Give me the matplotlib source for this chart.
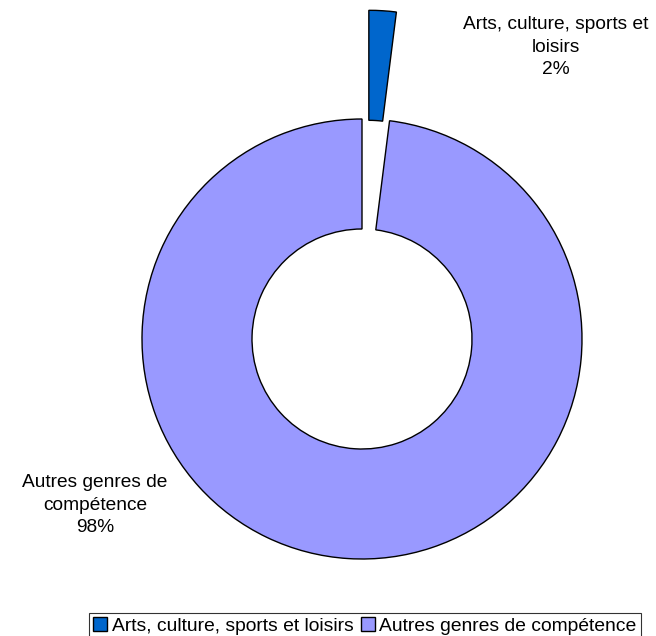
import matplotlib
matplotlib.use("Agg")
import matplotlib.pyplot as plt

categories = ["Arts, culture, sports et loisirs", "Autres genres de compétence"]
values = [2, 98]
label_texts = ["Arts, culture, sports et\nloisirs\n2%", "Autres genres de\ncompétence\n98%"]
colors = ["#0066CC", "#9999FF"]

plt.rcParams['font.family'] = ['Liberation Sans', 'DejaVu Sans']

W, H = 656, 636
fig = plt.figure(figsize=(W / 100, H / 100), dpi=100)
ax = fig.add_axes([0, 0, 1, 1])

R = 220.0
cx, cy = 362.0, 339.0

def px(x, y):
    return ((x - cx) / R, (cy - y) / R)

wedges, _ = ax.pie(values, colors=colors, startangle=90, counterclock=False,
                   explode=[0.495, 0], radius=1.0,
                   wedgeprops=dict(width=0.5, edgecolor="black", linewidth=1.0))

x0, y0 = px(556, 47)
ax.text(x0, y0, label_texts[0], ha="center", va="center", fontsize=13.8, linespacing=1.4)
x1, y1 = px(95, 505)
ax.text(x1, y1, label_texts[1], ha="center", va="center", fontsize=13.8, linespacing=1.4)

ax.set_xlim(-cx / R, (W - cx) / R)
ax.set_ylim(-(H - cy) / R, cy / R)
ax.set_aspect("equal")
ax.axis("off")

leg = fig.legend(wedges, categories, loc="lower center", bbox_to_anchor=(365 / W, -0.004),
                 ncol=2, fontsize=13.9, frameon=True, fancybox=False, edgecolor="black",
                 handlelength=0.7, handleheight=0.7, handletextpad=0.25, columnspacing=0.4,
                 borderpad=0.2, borderaxespad=0)
leg.get_frame().set_linewidth(0.8)

fig.savefig("out.png", dpi=100)
